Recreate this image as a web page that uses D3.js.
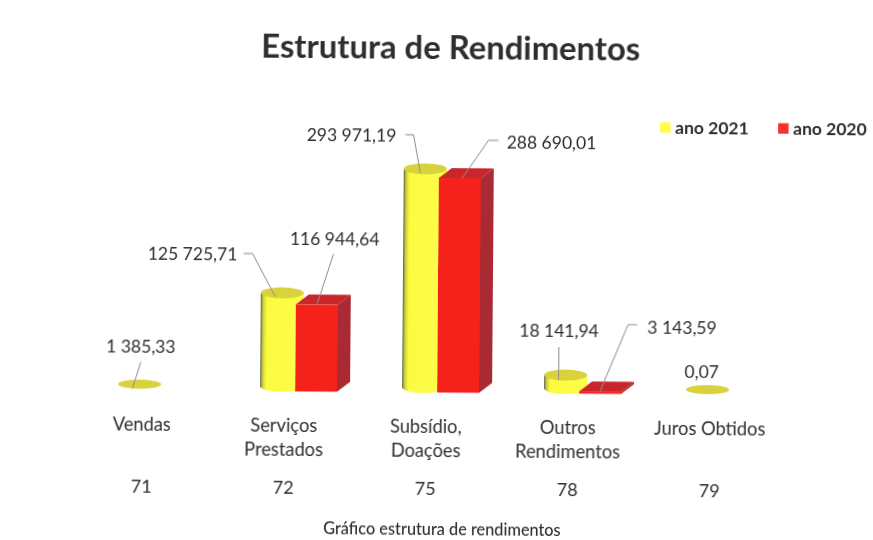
<!DOCTYPE html>
<html>
<head>
<meta charset="utf-8">
<script src="https://cdn.jsdelivr.net/npm/d3@7/dist/d3.min.js"></script>
<style>
  html, body { margin: 0; background: #fff; }
  text { font-family: Lato, sans-serif; fill: #2f2f33; }
</style>
</head>
<body>
<div id="chart"></div>
<script>
const categories = ["Vendas", "Serviços Prestados", "Subsídio, Doações", "Outros Rendimentos", "Juros Obtidos"];
const accounts = ["71", "72", "75", "78", "79"];
const years = ["ano 2021", "ano 2020"];
const values2021 = [1385.33, 125725.71, 293971.19, 18141.94, 0.07];
const values2020 = [null, 116944.64, 288690.01, 3143.59, null];
const labels2021 = ["1 385,33", "125 725,71", "293 971,19", "18 141,94", "0,07"];
const labels2020 = ["", "116 944,64", "288 690,01", "3 143,59", ""];
const categoryLines = [["Vendas"], ["Serviços", "Prestados"], ["Subsídio,", "Doações"], ["Outros", "Rendimentos"], ["Juros Obtidos"]];
// leader and label offsets from the top of each bar
const leaders2021 = [[[1, -22], [-7, 4]], [[-39, -39], [-30, -39], [-7, 4]], [[-20, -34], [-12, -34], [-5, 4]], [[-7, -28], [-7, 5]], null];
const leaders2020 = [null, [[10, -46], [-6, 4]], [[32, -33], [22, -33], [-4, 5]], [[30, -62], [21, -62], [-7, 6]], null];
const labelPos2021 = [[1, -31], [-90, -32], [-74, -27], [-7, -38], [-6, -11]];
const labelPos2020 = [null, [11, -55], [85, -25], [75, -53], null];

const width = 873, height = 540;
const base = 392.5, depthX = 13, depthY = 10, cylW = 43, boxW = 42;

const x = d3.scaleBand().domain(categories).range([119, 829]);
const inner = d3.scalePoint().domain(years).range([0, 35]);
const h = d3.scaleLinear().domain([0, 300000]).range([0, 223]);

const svg = d3.select("#chart").append("svg").attr("width", width).attr("height", height).style("display", "block");

const defs = svg.append("defs");
const grad = defs.append("linearGradient").attr("id", "cyl");
grad.append("stop").attr("offset", "0").attr("stop-color", "#4d5a48");
grad.append("stop").attr("offset", "0.05").attr("stop-color", "#c9c93a");
grad.append("stop").attr("offset", "0.14").attr("stop-color", "#fbfb40");
grad.append("stop").attr("offset", "1").attr("stop-color", "#fdfd4c");
defs.append("filter").attr("id", "scan").append("feGaussianBlur").attr("stdDeviation", 0.35);

// the scanned page is slightly tilted
const g = svg.append("g").attr("transform", "rotate(0.45 436 270)").attr("filter", "url(#scan)");

g.append("text").attr("x", 449).attr("y", 59).attr("text-anchor", "middle")
  .attr("font-size", 32.8).attr("font-weight", 700).text("Estrutura de Rendimentos");

// yellow cylinders
categories.forEach((c, i) => {
  const v = values2021[i];
  const x0 = x(c) + inner(years[0]);
  const cx = x0 + cylW / 2, rx = cylW / 2, ry = h(v) > 1.5 ? 5.5 : 4.5;
  const yb = base - depthY / 2, yt = yb - h(v);
  if (h(v) > 1.5) {
    g.append("path").attr("fill", "url(#cyl)")
      .attr("d", `M${x0},${yt}L${x0},${yb}A${rx},${ry} 0 0 0 ${x0 + cylW},${yb}L${x0 + cylW},${yt}Z`);
  }
  g.append("ellipse").attr("cx", cx).attr("cy", yt).attr("rx", rx).attr("ry", ry).attr("fill", "#d8d23c");
});

// red boxes
categories.forEach((c, i) => {
  const v = values2020[i];
  if (v === null) return;
  const x0 = x(c) + inner(years[1]), yb = base, yt = base - h(v);
  g.append("path").attr("fill", "#a92a30")
    .attr("d", `M${x0 + boxW},${yb}L${x0 + boxW + depthX},${yb - depthY}L${x0 + boxW + depthX},${yt - depthY}L${x0 + boxW},${yt}Z`);
  g.append("path").attr("fill", "#c8262c")
    .attr("d", `M${x0},${yt}L${x0 + depthX},${yt - depthY}L${x0 + boxW + depthX},${yt - depthY}L${x0 + boxW},${yt}Z`);
  g.append("rect").attr("x", x0).attr("y", yt).attr("width", boxW).attr("height", h(v)).attr("fill", "#f5231d");
});

// leader lines and value labels
const line = d3.line();
categories.forEach((c, i) => {
  const cx = x(c) + cylW / 2, yt = base - depthY / 2 - h(values2021[i]);
  if (leaders2021[i]) {
    g.append("path").attr("fill", "none").attr("stroke", "#8a8a8a").attr("stroke-width", 1)
      .attr("d", line(leaders2021[i].map(p => [cx + p[0], yt + p[1]])));
  }
  g.append("text").attr("x", cx + labelPos2021[i][0]).attr("y", yt + labelPos2021[i][1])
    .attr("text-anchor", "middle").attr("font-size", 17.5).text(labels2021[i]);
  if (values2020[i] !== null) {
    const bx = x(c) + inner(years[1]) + boxW / 2 + depthX / 2, by = base - h(values2020[i]) - depthY / 2;
    g.append("path").attr("fill", "none").attr("stroke", "#8a8a8a").attr("stroke-width", 1)
      .attr("d", line(leaders2020[i].map(p => [bx + p[0], by + p[1]])));
    g.append("text").attr("x", bx + labelPos2020[i][0]).attr("y", by + labelPos2020[i][1])
      .attr("text-anchor", "middle").attr("font-size", 17.5).text(labels2020[i]);
  }
});

// category names and account numbers
categories.forEach((c, i) => {
  const cx = x(c) + 24;
  categoryLines[i].forEach((t, j) => {
    g.append("text").attr("x", cx).attr("y", 432.5 + j * 24).attr("text-anchor", "middle").attr("font-size", 18.3).text(t);
  });
  g.append("text").attr("x", cx).attr("y", 495).attr("text-anchor", "middle").attr("font-size", 18).text(accounts[i]);
});

// legend
const legendX = [659, 777];
years.forEach((y, i) => {
  g.append("rect").attr("x", legendX[i]).attr("y", 120.5).attr("width", 10.5).attr("height", 10.5)
    .attr("fill", i ? "#f5302f" : "#fdfd50");
  g.append("text").attr("x", legendX[i] + 15).attr("y", 131.5).attr("font-size", 17.5).attr("font-weight", 700).text(y);
});

g.append("text").attr("x", 444).attr("y", 535).attr("text-anchor", "middle").attr("font-size", 16.3).attr("font-weight", 500).text("Gráfico estrutura de rendimentos");
</script>
</body>
</html>
